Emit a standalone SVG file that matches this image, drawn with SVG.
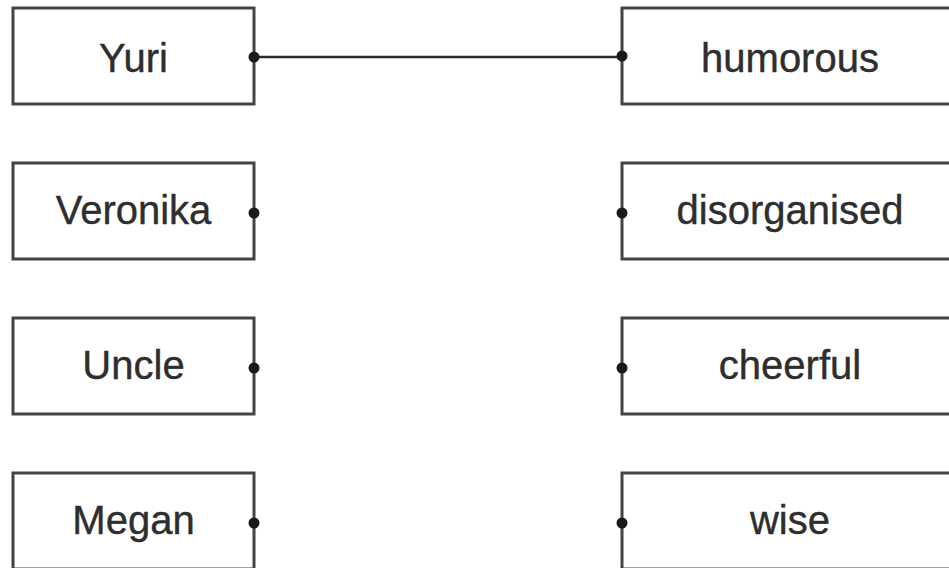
<svg xmlns="http://www.w3.org/2000/svg" width="949" height="568" viewBox="0 0 949 568">
<style>
.box{fill:#fff;stroke:#444;stroke-width:3}
.lbl{font-family:"Liberation Sans",Arial,sans-serif;font-size:40px;fill:#2e2e2e;text-anchor:middle;stroke:#2e2e2e;stroke-width:0.4}
.dot{fill:#1a1a1a}
.conn{stroke:#2a2a2a;stroke-width:2.4;fill:none}
</style>
<rect width="949" height="568" fill="#fff"/>
<g id="connectors">
<line class="conn" x1="254" y1="57" x2="622" y2="57"/>
</g>
<g id="yuri"><rect class="box" x="13" y="8" width="241" height="96"/><text class="lbl" x="133.5" y="72">Yuri</text><circle class="dot" cx="254" cy="57" r="5.5"/></g>
<g id="veronika"><rect class="box" x="13" y="163" width="241" height="96"/><text class="lbl" x="133.5" y="224">Veronika</text><circle class="dot" cx="254" cy="213" r="5.5"/></g>
<g id="uncle"><rect class="box" x="13" y="318" width="241" height="96"/><text class="lbl" x="133.5" y="379">Uncle</text><circle class="dot" cx="254" cy="368" r="5.5"/></g>
<g id="megan"><rect class="box" x="13" y="473" width="241" height="96"/><text class="lbl" x="133.5" y="534">Megan</text><circle class="dot" cx="254" cy="523" r="5.5"/></g>
<g id="humorous"><rect class="box" x="622" y="8" width="336" height="96"/><text class="lbl" x="790" y="72">humorous</text><circle class="dot" cx="622" cy="56" r="5.5"/></g>
<g id="disorganised"><rect class="box" x="622" y="163" width="336" height="96"/><text class="lbl" x="790" y="224">disorganised</text><circle class="dot" cx="622" cy="213" r="5.5"/></g>
<g id="cheerful"><rect class="box" x="622" y="318" width="336" height="96"/><text class="lbl" x="790" y="379">cheerful</text><circle class="dot" cx="622" cy="368" r="5.5"/></g>
<g id="wise"><rect class="box" x="622" y="473" width="336" height="96"/><text class="lbl" x="790" y="534">wise</text><circle class="dot" cx="622" cy="523" r="5.5"/></g>
</svg>
